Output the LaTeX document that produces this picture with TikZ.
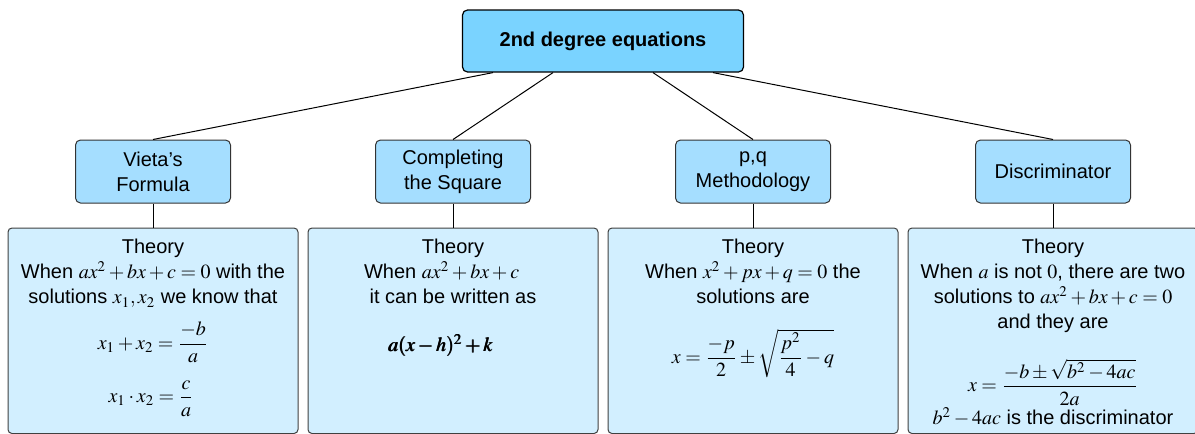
\documentclass[tikz,border=0pt]{standalone}
\usepackage{amsmath}
\usepackage{mathptmx}
\usepackage[no-math]{fontspec}
\setmainfont{Liberation Sans}
\usetikzlibrary{positioning,calc}
\definecolor{topfill}{RGB}{122,211,255}
\definecolor{methfill}{RGB}{165,222,255}
\definecolor{theofill}{RGB}{210,239,255}

\begin{document}
\begin{tikzpicture}[
  x=0.5pt,y=-0.5pt,
  font=\fontsize{10}{12.5}\selectfont,
  topbox/.style={rectangle,rounded corners=2.5pt,draw=black,line width=0.6pt,fill=topfill,minimum width=140.5pt,minimum height=31pt,font=\fontsize{10}{12.5}\selectfont\bfseries},
  method/.style={rectangle,rounded corners=2.5pt,draw=black!80,line width=0.5pt,fill=methfill,minimum width=77.5pt,minimum height=31.5pt,align=center,inner sep=1pt},
  theory/.style={rectangle,rounded corners=2pt,draw=black!75,line width=0.5pt,fill=theofill,minimum width=145pt,minimum height=102.75pt,inner sep=0pt},
  body/.style={align=center,inner sep=0pt,outer sep=0pt},
  link/.style={line width=0.5pt}
]
\useasboundingbox (0,0) rectangle (1195,434);
\node[topbox] (root) at (603,41) {2nd degree equations};
\node[method] (vieta) at (153,171.5) {Vieta’s\\Formula};
\node[method] (square) at (453,171.5) {Completing\\the Square};
\node[method] (pq) at (753,171.5) {p,q\\Methodology};
\node[method] (discr) at (1053,171.5) {Discriminator};
\node[theory,below=12pt of vieta] (thvieta) {};
\node[theory,below=12pt of square] (thsquare) {};
\node[theory,below=12pt of pq] (thpq) {};
\node[theory,below=12pt of discr] (thdiscr) {};
\draw[link] ([xshift=-55pt]root.south) -- (vieta.north);
\draw[link] ([xshift=-25pt]root.south) -- (square.north);
\draw[link] ([xshift=25pt]root.south) -- (pq.north);
\draw[link] ([xshift=55pt]root.south) -- (discr.north);
\foreach \m/\t in {vieta/thvieta,square/thsquare,pq/thpq,discr/thdiscr}
  \draw[link] (\m) -- (\t);
% Vieta
\node[body,below=6pt of thvieta.north] (txvieta) {Theory\\When $ax^2+bx+c=0$ with the\\solutions $x_1,x_2$ we know that};
\node[body] (sumvieta) at ($(thvieta.north)+(0,115)$) {$x_1+x_2=\dfrac{-b}{a}$};
\node[body] (prodvieta) at ($(thvieta.north)+(-2,171)$) {$x_1\cdot x_2=\dfrac{c}{a}$};
% completing the square
\node[body,below=6pt of thsquare.north] (txsquare) {Theory\\When $ax^2+bx+c$\phantom{=0}\\it can be written as};
\node[body] (vertex) at ($(thsquare.north)+(-12,118)$) {$\pmb{a(x-h)^2+k}$};
% p,q
\node[body,below=6pt of thpq.north] (txpq) {Theory\\When $x^2+px+q=0$ the\\solutions are};
\node[body] (pqroots) at ($(thpq.north)+(0,126)$) {$x=\dfrac{-p}{2}\pm\sqrt{\dfrac{p^2}{4}-q}$};
% discriminant
\node[body,below=6pt of thdiscr.north] (txdiscr) {Theory\\When $a$ is not $0$, there are two\\solutions to $ax^2+bx+c=0$\\and they are};
\node[body] (abc) at ($(thdiscr.north)+(0,155)$) {$x=\dfrac{-b\pm\sqrt{b^2-4ac}}{2a}$};
\node[body,anchor=base] (disc) at ($(thdiscr.north)+(0,197)$) {$b^2-4ac$ is the discriminator};
\end{tikzpicture}
\end{document}
